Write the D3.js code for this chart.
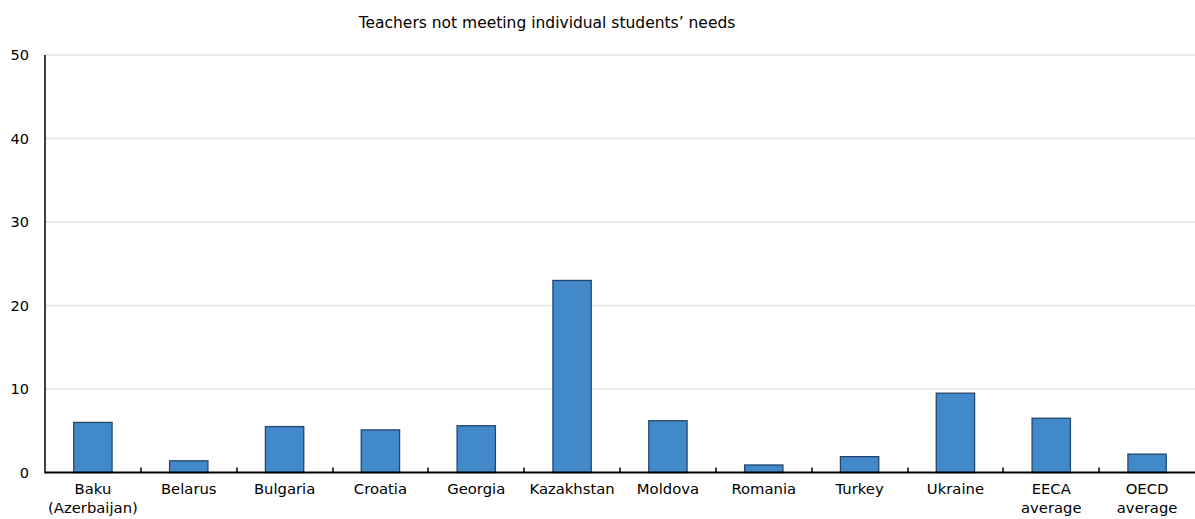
<!DOCTYPE html>
<html><head><meta charset="utf-8">
<script src="https://cdn.jsdelivr.net/npm/d3@7"></script>
<style>body{margin:0;background:#fff}svg{display:block}text{font-family:"DejaVu Sans",Verdana,sans-serif;fill:#000}</style>
</head><body><svg id="c" width="1195" height="519"></svg>
<script>
const title = "Teachers not meeting individual students\u2019 needs";
const categories = ["Baku (Azerbaijan)","Belarus","Bulgaria","Croatia","Georgia","Kazakhstan","Moldova","Romania","Turkey","Ukraine","EECA average","OECD average"];
const labelLines = [["Baku","(Azerbaijan)"],["Belarus"],["Bulgaria"],["Croatia"],["Georgia"],["Kazakhstan"],["Moldova"],["Romania"],["Turkey"],["Ukraine"],["EECA","average"],["OECD","average"]];
const values = [6.0,1.4,5.5,5.1,5.6,23.0,6.2,0.9,1.9,9.5,6.5,2.2];
const yTicks = [0,10,20,30,40,50];

const svg = d3.select("#c");
const m = {l:45, r:0, t:55, b:472.5};
const x = d3.scaleBand().domain(categories).range([m.l, 1195]).padding(0);
const y = d3.scaleLinear().domain([0,50]).range([m.b, m.t]);

// gridlines
svg.append("g").selectAll("line").data(yTicks.filter(d=>d>0)).join("line")
  .attr("x1", m.l).attr("x2", 1195).attr("y1", d=>y(d)).attr("y2", d=>y(d))
  .attr("stroke", "#e3e3e3").attr("stroke-width", 1.5);

// y labels
svg.append("g").selectAll("text").data(yTicks).join("text")
  .attr("x", 29).attr("y", d=>y(d)).attr("dy","0.36em").attr("text-anchor","end")
  .attr("font-size", 14.5).text(d=>d);

// bars
const bw = x.bandwidth()*0.4;
svg.append("g").selectAll("rect").data(values).join("rect")
  .attr("x", (d,i)=>x(categories[i]) + x.bandwidth()/2 - bw/2)
  .attr("width", bw)
  .attr("y", d=>y(d)).attr("height", d=>y(0)-y(d))
  .attr("fill", "#4189c9").attr("stroke", "#25466a").attr("stroke-width", 1.3);

// y axis line
svg.append("line").attr("x1", m.l).attr("x2", m.l).attr("y1", y(50)).attr("y2", y(0)+1)
  .attr("stroke","#000").attr("stroke-width",1.5);
// x axis line
svg.append("line").attr("x1", m.l).attr("x2", 1195).attr("y1", y(0)).attr("y2", y(0))
  .attr("stroke","#000").attr("stroke-width",1.8);
// ticks at band boundaries
svg.append("g").selectAll("line").data(categories.slice(1)).join("line")
  .attr("x1", d=>Math.round(x(d))).attr("x2", d=>Math.round(x(d)))
  .attr("y1", y(0)).attr("y2", y(0)-5).attr("stroke","#000").attr("stroke-width",1.5);

// x labels
const xl = svg.append("g").selectAll("text").data(labelLines).join("text")
  .attr("text-anchor","middle").attr("font-size",14.8)
  .attr("transform",(d,i)=>`translate(${x(categories[i])+x.bandwidth()/2},494)`);
xl.selectAll("tspan").data(d=>d).join("tspan").attr("x",0).attr("dy",(d,j)=>j?18.5:0).text(d=>d);

// title
svg.append("text").attr("x", 547).attr("y", 28).attr("text-anchor","middle").attr("font-size",15.5).text(title);
</script></body></html>
